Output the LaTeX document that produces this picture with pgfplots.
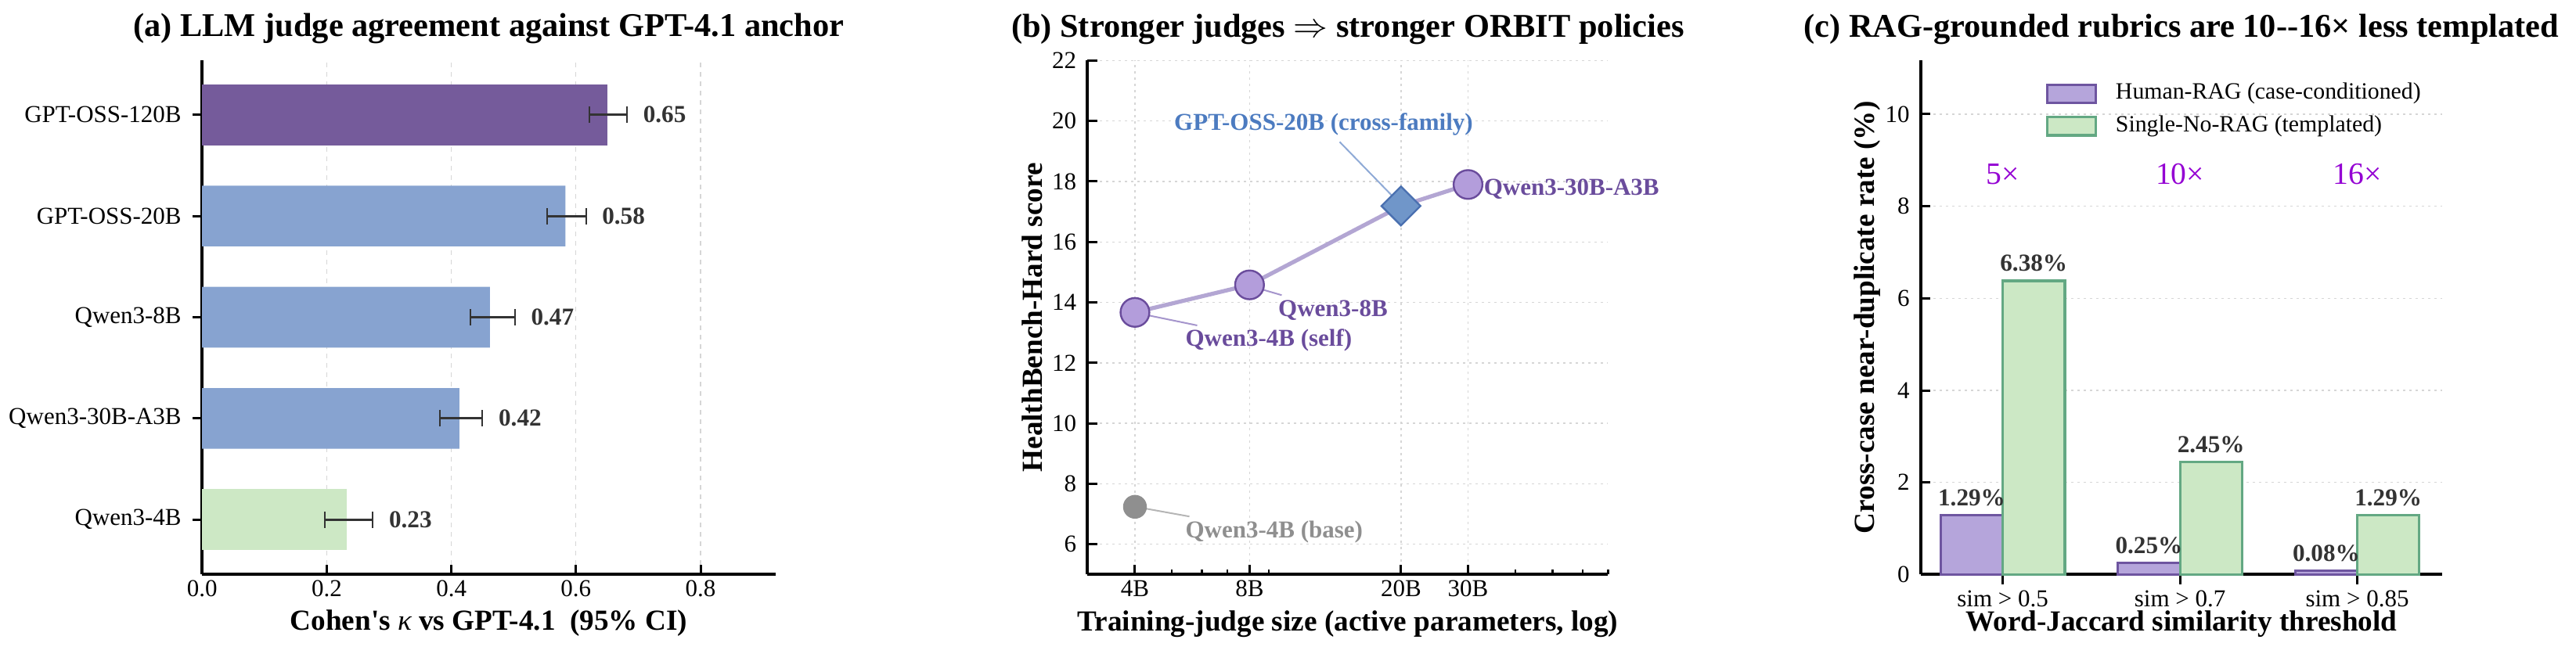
\documentclass[border=0pt]{standalone}
\usepackage{fontspec}
\setmainfont{Liberation Serif}
\usepackage{pgfplots}
\pgfplotsset{compat=1.18}

\definecolor{aPurple}{HTML}{755B9B}
\definecolor{aBlue}{HTML}{87A3D0}
\definecolor{aGreen}{HTML}{CDE8C5}
\definecolor{ebar}{HTML}{333333}
\definecolor{lineP}{HTML}{B3A6D3}
\definecolor{circP}{HTML}{B39DDB}
\definecolor{edgeP}{HTML}{6A4C9C}
\definecolor{diaB}{HTML}{7096C9}
\definecolor{edgeB}{HTML}{4A70B0}
\definecolor{baseG}{HTML}{8F8F8F}
\definecolor{txtP}{HTML}{6A4C9C}
\definecolor{txtB}{HTML}{4C7BC0}
\definecolor{leadP}{HTML}{A595CC}
\definecolor{leadB}{HTML}{8FAAD6}
\definecolor{leadG}{HTML}{B5B5B5}
\definecolor{cPurp}{HTML}{B5A5DB}
\definecolor{cPurpE}{HTML}{6E55A0}
\definecolor{cGreen}{HTML}{CCE8C5}
\definecolor{cGreenE}{HTML}{63A883}
\definecolor{ratioV}{HTML}{9400D3}
\definecolor{gridc}{HTML}{D6D6D6}

\newcommand{\tickfont}{\fontsize{7.75}{9}\selectfont}
\newcommand{\legfont}{\fontsize{7.45}{9}\selectfont}
\newcommand{\labfont}{\fontsize{9.3}{11}\selectfont\bfseries}
\newcommand{\titfont}{\fontsize{10.6}{12.7}\selectfont\bfseries}
\newcommand{\valfont}{\fontsize{7.8}{9}\selectfont\bfseries}
\newcommand{\annfont}{\fontsize{7.75}{9}\selectfont\bfseries}
\newcommand{\ratfont}{\fontsize{9.9}{11}\selectfont}

\pgfkeys{/pgf/number format/assume math mode=true}

\pgfplotsset{
  mystyle/.style={
    scale only axis,
    anchor=south west,
    axis lines*=left,
    axis line style={line width=1pt,-},
    tick align=inside,
    major tick length=3.1pt,
    minor tick length=1.7pt,
    tick style={black,line width=0.75pt},
    minor tick style={black,line width=0.6pt},
    tick label style={font=\tickfont},
    xticklabel style={anchor=base,yshift=-7.1pt},
    /pgf/number format/assume math mode=true,
    label style={font=\labfont},
    title style={font=\titfont,at={(0.5,1)},anchor=base,yshift=1.5pt},
    xlabel style={at={(axis description cs:0.5,0)},anchor=base,yshift=-18pt},
    scaled ticks=false,
  },
  ebars/.style={
    error bars/.cd, x dir=both, x explicit,
    error bar style={line width=0.75pt,ebar},
    error mark options={rotate=90,line width=0.5pt,ebar,mark size=2.6pt},
  },
}

\begin{document}
\begin{tikzpicture}[x=1pt,y=1pt]
\useasboundingbox (0,0) rectangle (822.75,209);

% ---------------- (a)
\begin{axis}[mystyle,
  at={(64.55pt,25.5pt)}, width=183.1pt, height=164.25pt,
  xmin=0, xmax=0.92, ymin=-0.54, ymax=4.54,
  xtick={0,0.2,0.4,0.6,0.8},
  xticklabel style={/pgf/number format/.cd,fixed,fixed zerofill,precision=1},
  ytick={0,1,2,3,4},
  yticklabels={Qwen3-4B,Qwen3-30B-A3B,Qwen3-8B,GPT-OSS-20B,GPT-OSS-120B},
  xmajorgrids,
  grid style={gridc,dash pattern=on 1.5pt off 1.5pt,line width=0.3pt},
  xbar, bar width=0.6, bar shift=0pt,
  title={(a) LLM judge agreement against GPT-4.1 anchor},
  xlabel={Cohen\textquotesingle s {\mdseries\itshape κ} vs GPT-4.1\ \ (95\% CI)},
]
\addplot[fill=aPurple,draw=none,ebars] coordinates {(0.650,4) += (0.032,0) -= (0.028,0)};
\addplot[fill=aBlue,draw=none,ebars] coordinates {
  (0.583,3) += (0.033,0) -= (0.029,0)
  (0.462,2) += (0.040,0) -= (0.031,0)
  (0.413,1) += (0.037,0) -= (0.032,0)};
\addplot[fill=aGreen,draw=none,ebars] coordinates {(0.232,0) += (0.042,0) -= (0.035,0)};
\node[anchor=west,inner sep=0pt,font=\valfont,text=ebar] at (axis cs:0.707,4) {0.65};
\node[anchor=west,inner sep=0pt,font=\valfont,text=ebar] at (axis cs:0.641,3) {0.58};
\node[anchor=west,inner sep=0pt,font=\valfont,text=ebar] at (axis cs:0.527,2) {0.47};
\node[anchor=west,inner sep=0pt,font=\valfont,text=ebar] at (axis cs:0.475,1) {0.42};
\node[anchor=west,inner sep=0pt,font=\valfont,text=ebar] at (axis cs:0.299,0) {0.23};
\end{axis}

% ---------------- (b)
\begin{axis}[mystyle,
  at={(347.3pt,25.4pt)}, width=166.3pt, height=164.25pt,
  xmode=log, xmin=3, xmax=70, ymin=5, ymax=22,
  xtick={4,8,20,30}, xticklabels={4B,8B,20B,30B},
  minor xtick={5,6,7,9,40,50,60,70},
  ytick={6,8,10,12,14,16,18,20,22},
  xmajorgrids, ymajorgrids,
  grid style={gridc,dash pattern=on 0.8pt off 1.2pt,line width=0.35pt},
  clip=false,
  title={(b) Stronger judges $\Rightarrow$ stronger ORBIT policies},
  xlabel={Training-judge size (active parameters, log)},
  ylabel={HealthBench-Hard score},
  ylabel style={at={(axis description cs:-0.0863,0.5)},anchor=base},
]
\addplot[no marks,color=lineP,line width=1.3pt] coordinates {(4,13.67) (8,14.58) (20,17.19) (30,17.9)};
\addplot[only marks,mark=*,mark size=4.6pt,mark options={fill=circP,draw=edgeP,line width=0.6pt}] coordinates {(4,13.67) (8,14.58) (30,17.9)};
\addplot[only marks,mark=square*,mark size=4.4pt,mark options={rotate=45,fill=diaB,draw=edgeB,line width=0.6pt}] coordinates {(20,17.19)};
\addplot[only marks,mark=*,mark size=3.6pt,mark options={fill=baseG,draw=baseG}] coordinates {(4,7.24)};
\draw[leadB,line width=0.5pt] (axis cs:13.8,19.31) -- (axis cs:19.6,17.34);
\draw[leadP,line width=0.5pt] (axis cs:30.5,17.89) -- (axis cs:32.6,17.88);
\draw[leadP,line width=0.5pt] (axis cs:8.1,14.53) -- (axis cs:9.72,14.24);
\draw[leadP,line width=0.5pt] (axis cs:4.12,13.63) -- (axis cs:5.83,13.24);
\draw[leadG,line width=0.5pt] (axis cs:4.1,7.22) -- (axis cs:5.56,6.92);
\node[anchor=base,inner sep=0pt,font=\annfont,text=txtB] at (axis cs:12.52,19.70) {GPT-OSS-20B (cross-family)};
\node[anchor=base west,inner sep=0pt,font=\annfont,text=txtP] at (axis cs:32.9,17.55) {Qwen3-30B-A3B};
\node[anchor=base west,inner sep=0pt,font=\annfont,text=txtP] at (axis cs:9.49,13.54) {Qwen3-8B};
\node[anchor=base west,inner sep=0pt,font=\annfont,text=txtP] at (axis cs:5.41,12.55) {Qwen3-4B (self)};
\node[anchor=base west,inner sep=0pt,font=\annfont,text=baseG] at (axis cs:5.41,6.21) {Qwen3-4B (base)};
\end{axis}

% ---------------- (c)
\begin{axis}[mystyle,
  at={(613.45pt,25.4pt)}, width=166.5pt, height=164.25pt,
  xmin=-0.463, xmax=2.478, ymin=0, ymax=11.165,
  xtick={0,1,2}, xticklabels={sim > 0.5,sim > 0.7,sim > 0.85},
  ytick={0,2,4,6,8,10},
  ymajorgrids,
  grid style={gridc,dash pattern=on 0.8pt off 1.2pt,line width=0.35pt},
  ybar, bar width=0.35,
  clip=false,
  title={(c) RAG-grounded rubrics are 10-{}-16× less templated},
  xlabel={Word-Jaccard similarity threshold},
  ylabel={Cross-case near-duplicate rate (\%)},
  ylabel style={at={(axis description cs:-0.0886,0.5)},anchor=base},
  legend cell align=left,
  legend image code/.code={\draw[#1] (0pt,-2.9pt) rectangle (15.5pt,2.9pt);},
  legend style={draw=none,fill=none,at={(axis description cs:0.2402,0.9574)},anchor=north west,
    inner sep=0pt,outer sep=0pt,font=\legfont,row sep=3.2pt,column sep=6pt,
    nodes={inner sep=0pt,text height=5.4pt,text depth=1.8pt}},
  nodes near coords={\pgfmathprintnumber[fixed,fixed zerofill,precision=2]{\pgfplotspointmeta}\%},
  nodes near coords style={font=\valfont,text=ebar,anchor=base,yshift=3pt,inner sep=0pt},
]
\addplot[fill=cPurp,draw=cPurpE,line width=0.8pt,bar shift=-0.175] coordinates {(0,1.29) (1,0.25) (2,0.08)};
\addplot[fill=cGreen,draw=cGreenE,line width=0.8pt,bar shift=0.175] coordinates {(0,6.38) (1,2.45) (2,1.29)};
\legend{Human-RAG (case-conditioned),Single-No-RAG (templated)}
\node[anchor=base,inner sep=0pt,font=\ratfont,text=ratioV] at (axis cs:0,8.48) {5×};
\node[anchor=base,inner sep=0pt,font=\ratfont,text=ratioV] at (axis cs:1,8.48) {10×};
\node[anchor=base,inner sep=0pt,font=\ratfont,text=ratioV] at (axis cs:2,8.48) {16×};
\end{axis}
\end{tikzpicture}
\end{document}
